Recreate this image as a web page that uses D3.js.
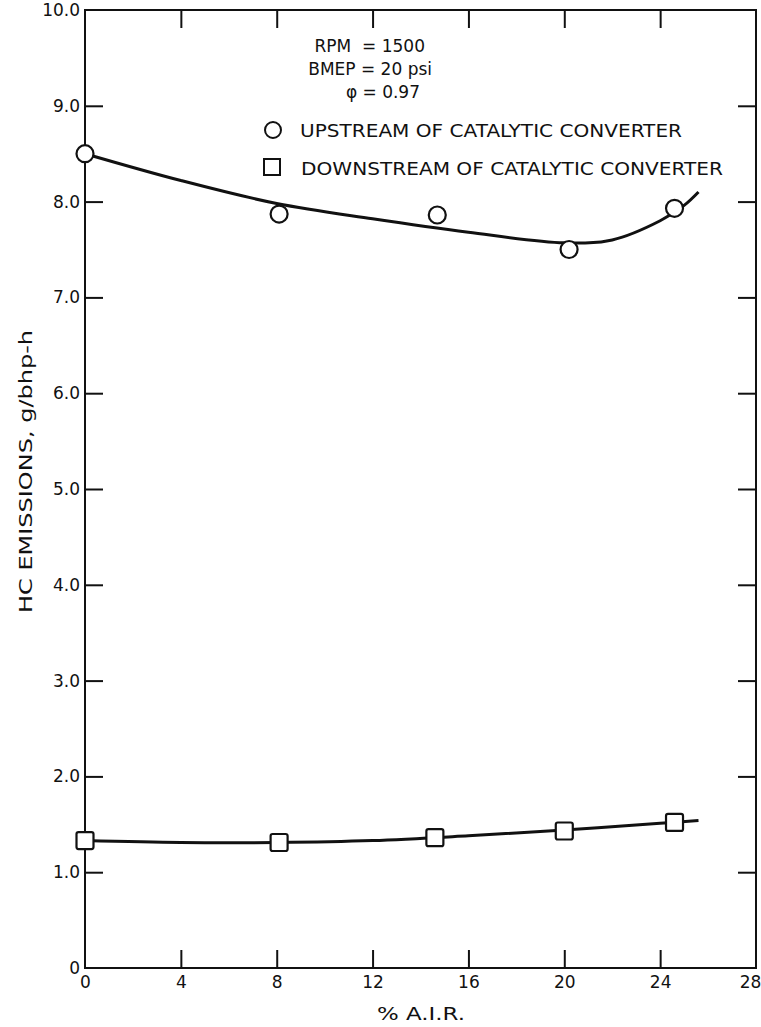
<!DOCTYPE html>
<html>
<head>
<meta charset="utf-8">
<script src="https://cdn.jsdelivr.net/npm/d3@7"></script>
<style>
  body { margin: 0; background: #fff; }
  svg text { font-family: "DejaVu Sans", sans-serif; fill: #111; }
</style>
</head>
<body>
<svg id="chart" width="761" height="1027"></svg>
<script>
// Measured points (x = % A.I.R., y = HC emissions g/bhp-h)
const upstreamPoints = [[0, 8.5], [8.1, 7.87], [14.7, 7.86], [20.2, 7.5], [24.6, 7.93]];
const downstreamPoints = [[0, 1.33], [8.1, 1.31], [14.6, 1.36], [20.0, 1.43], [24.6, 1.52]];

// Hand-drawn fit curves
const upstreamCurve = [[0, 8.5], [4, 8.22], [8, 7.98], [12, 7.82], [16, 7.68], [20, 7.57], [22, 7.6], [24, 7.8], [25, 7.96], [25.6, 8.1]];
const downstreamCurve = [[0, 1.33], [4, 1.31], [8, 1.31], [12, 1.33], [16, 1.38], [20, 1.44], [24, 1.51], [25.6, 1.54]];

const xTicks = [0, 4, 8, 12, 16, 20, 24, 28];
const yTicks = [0, 1, 2, 3, 4, 5, 6, 7, 8, 9, 10];
const yTickLabels = ["0", "1.0", "2.0", "3.0", "4.0", "5.0", "6.0", "7.0", "8.0", "9.0", "10.0"];

const legendItems = ["UPSTREAM OF CATALYTIC CONVERTER", "DOWNSTREAM OF CATALYTIC CONVERTER"];
const conditions = ["RPM  = 1500", "BMEP = 20 psi", "\u03C6 = 0.97"];

const svg = d3.select("#chart");
const margin = { top: 10, right: 5, bottom: 59, left: 85 };
const width = 761 - margin.left - margin.right;
const height = 1027 - margin.top - margin.bottom;

const x = d3.scaleLinear().domain([0, 28]).range([0, width]);
const y = d3.scaleLinear().domain([0, 10]).range([height, 0]);

const g = svg.append("g").attr("transform", `translate(${margin.left},${margin.top})`);

// frame
g.append("rect")
  .attr("width", width).attr("height", height)
  .attr("fill", "none").attr("stroke", "#111").attr("stroke-width", 2);

// inner ticks on all four sides
const tickLen = 18;
g.append("g").attr("transform", `translate(0,${height})`)
  .call(d3.axisBottom(x).tickValues(xTicks).tickSizeInner(-tickLen).tickSizeOuter(0).tickPadding(8))
  .call(a => a.select(".domain").remove())
  .call(a => a.selectAll("line").attr("stroke", "#111").attr("stroke-width", 2)
    .filter(d => d === 0 || d === 28).remove())
  .call(a => a.selectAll("text").attr("font-size", 17).attr("font-family", "DejaVu Sans").attr("fill", "#111")
    .filter(d => d === 28).attr("dx", -6));

g.append("g")
  .call(d3.axisTop(x).tickValues(xTicks.slice(1, -1)).tickSizeInner(-tickLen).tickSizeOuter(0).tickFormat(""))
  .call(a => a.select(".domain").remove())
  .call(a => a.selectAll("line").attr("stroke", "#111").attr("stroke-width", 2));

g.append("g")
  .call(d3.axisLeft(y).tickValues(yTicks).tickSizeInner(-tickLen).tickSizeOuter(0).tickPadding(5)
    .tickFormat((d, i) => yTickLabels[i]))
  .call(a => a.select(".domain").remove())
  .call(a => a.selectAll("line").attr("stroke", "#111").attr("stroke-width", 2)
    .filter(d => d === 0 || d === 10).remove())
  .call(a => a.selectAll("text").attr("font-size", 17).attr("font-family", "DejaVu Sans").attr("fill", "#111"));

g.append("g").attr("transform", `translate(${width},0)`)
  .call(d3.axisRight(y).tickValues(yTicks.slice(1, -1)).tickSizeInner(-tickLen).tickSizeOuter(0).tickFormat(""))
  .call(a => a.select(".domain").remove())
  .call(a => a.selectAll("line").attr("stroke", "#111").attr("stroke-width", 2));

// axis titles
svg.append("text")
  .attr("x", 377).attr("y", 1020).attr("font-size", 18)
  .attr("textLength", 88).attr("lengthAdjust", "spacingAndGlyphs")
  .text("% A.I.R.");

svg.append("text")
  .attr("transform", "translate(32,613) rotate(-90)")
  .attr("font-size", 18)
  .attr("textLength", 283).attr("lengthAdjust", "spacingAndGlyphs")
  .text("HC EMISSIONS, g/bhp-h");

// curves
const line = d3.line().x(d => x(d[0])).y(d => y(d[1])).curve(d3.curveCatmullRom.alpha(0.5));
g.append("path").datum(upstreamCurve).attr("d", line)
  .attr("fill", "none").attr("stroke", "#111").attr("stroke-width", 3);
g.append("path").datum(downstreamCurve).attr("d", line)
  .attr("fill", "none").attr("stroke", "#111").attr("stroke-width", 3);

// markers
const mSize = 17;
g.selectAll(".up").data(upstreamPoints).enter().append("circle")
  .attr("class", "up")
  .attr("cx", d => x(d[0])).attr("cy", d => y(d[1])).attr("r", mSize / 2)
  .attr("fill", "#fff").attr("stroke", "#111").attr("stroke-width", 2.2);

g.selectAll(".down").data(downstreamPoints).enter().append("rect")
  .attr("class", "down")
  .attr("x", d => x(d[0]) - mSize / 2).attr("y", d => y(d[1]) - mSize / 2)
  .attr("width", mSize).attr("height", mSize).attr("rx", 2)
  .attr("fill", "#fff").attr("stroke", "#111").attr("stroke-width", 2.2);

// conditions block
const cond = svg.append("g").attr("font-size", 17).attr("text-anchor", "end");
cond.append("text").attr("x", 425).attr("y", 52).attr("xml:space", "preserve").text(conditions[0]);
cond.append("text").attr("x", 432).attr("y", 75).text(conditions[1]);
cond.append("text").attr("x", 420).attr("y", 98).text(conditions[2]);

// legend
const legend = svg.append("g");
legend.append("circle").attr("cx", 273).attr("cy", 130).attr("r", mSize / 2 - 0.5)
  .attr("fill", "#fff").attr("stroke", "#111").attr("stroke-width", 2);
legend.append("rect").attr("x", 264).attr("y", 159).attr("width", mSize - 1).attr("height", mSize - 1)
  .attr("fill", "#fff").attr("stroke", "#111").attr("stroke-width", 2);
legend.append("text").attr("x", 300).attr("y", 137).attr("font-size", 17)
  .attr("textLength", 382).attr("lengthAdjust", "spacingAndGlyphs").text(legendItems[0]);
legend.append("text").attr("x", 301).attr("y", 175).attr("font-size", 17)
  .attr("textLength", 422).attr("lengthAdjust", "spacingAndGlyphs").text(legendItems[1]);
</script>
</body>
</html>
